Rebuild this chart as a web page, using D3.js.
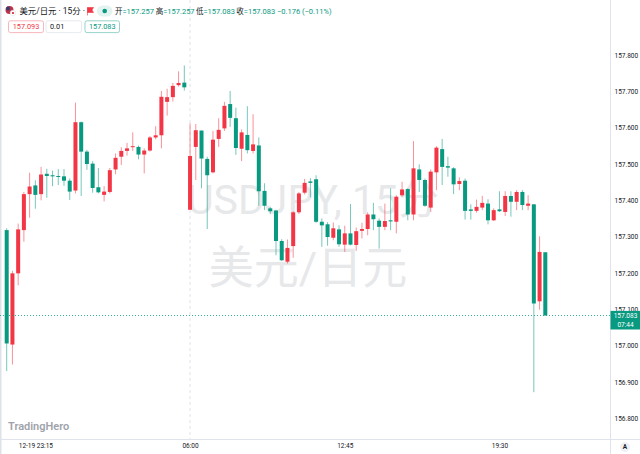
<!DOCTYPE html>
<html>
<head>
<meta charset="utf-8">
<script src="https://cdn.jsdelivr.net/npm/d3@7"></script>
<style>
  body { margin: 0; background: #fff; }
  svg { display: block; font-family: Roboto, "Noto Sans CJK SC", sans-serif; }
</style>
</head>
<body>
<svg id="chart" width="640" height="454"></svg>
<script>
// USD/JPY 15分 K线, 12-19 22:00 起
const startTime = new Date(2024, 11, 19, 22, 0);

const opens = [157.318,157.003,157.199,157.318,157.417,157.441,157.417,157.473,157.469,157.467,
  157.466,157.454,157.427,157.615,157.534,157.501,157.436,157.415,157.423,157.485,
  157.520,157.536,157.547,157.547,157.526,157.537,157.573,157.579,157.671,157.684,
  157.717,157.724,157.374,157.547,157.592,157.514,157.477,157.569,157.598,157.665,
  157.626,157.542,157.580,157.536,157.551,157.426,157.378,157.372,157.288,157.231,
  157.274,157.367,157.421,157.452,157.458,157.341,157.334,157.297,157.320,157.278,
  157.309,157.277,157.316,157.321,157.361,157.344,157.327,157.345,157.341,157.414,
  157.431,157.361,157.485,157.456,157.380,157.477,157.541,157.494,157.488,157.445,
  157.454,157.375,157.371,157.380,157.391,157.345,157.375,157.368,157.412,157.396,
  157.423,157.385,157.389,157.122,157.257];
const highs = [157.323,157.206,157.336,157.423,157.476,157.455,157.492,157.487,157.482,157.486,
  157.486,157.460,157.669,157.617,157.539,157.508,157.489,157.439,157.489,157.529,
  157.546,157.558,157.587,157.551,157.543,157.577,157.604,157.701,157.707,157.723,
  157.755,157.771,157.612,157.610,157.592,157.520,157.591,157.626,157.671,157.701,
  157.655,157.595,157.659,157.637,157.573,157.447,157.382,157.374,157.293,157.292,
  157.370,157.423,157.459,157.461,157.469,157.350,157.340,157.339,157.331,157.330,
  157.390,157.325,157.338,157.367,157.393,157.350,157.391,157.433,157.414,157.451,
  157.433,157.563,157.499,157.460,157.485,157.549,157.569,157.520,157.491,157.463,
  157.460,157.389,157.402,157.412,157.403,157.378,157.425,157.425,157.425,157.428,
  157.428,157.414,157.389,157.301,157.257];
const lows = [156.930,156.948,157.166,157.286,157.352,157.377,157.400,157.407,157.439,157.442,
  157.440,157.401,157.419,157.412,157.484,157.421,157.419,157.397,157.419,157.472,
  157.497,157.523,157.536,157.513,157.474,157.534,157.568,157.543,157.633,157.672,
  157.713,157.702,157.374,157.456,157.433,157.321,157.474,157.547,157.591,157.602,
  157.525,157.508,157.529,157.529,157.385,157.373,157.362,157.249,157.233,157.226,
  157.242,157.362,157.416,157.408,157.338,157.272,157.275,157.290,157.272,157.258,
  157.276,157.261,157.295,157.304,157.318,157.267,157.318,157.318,157.309,157.410,
  157.345,157.345,157.423,157.382,157.368,157.428,157.442,157.465,157.417,157.428,
  157.347,157.347,157.366,157.373,157.334,157.343,157.368,157.357,157.355,157.373,
  157.373,157.373,156.872,157.099,157.083];
const closes = [157.006,157.199,157.320,157.417,157.438,157.415,157.471,157.467,157.466,157.465,
  157.454,157.424,157.615,157.534,157.500,157.434,157.422,157.424,157.483,157.517,
  157.536,157.543,157.549,157.526,157.537,157.573,157.579,157.685,157.684,157.715,
  157.723,157.711,157.522,157.593,157.515,157.469,157.567,157.594,157.660,157.627,
  157.544,157.587,157.538,157.554,157.425,157.385,157.370,157.288,157.235,157.269,
  157.367,157.419,157.448,157.448,157.341,157.331,157.299,157.323,157.279,157.309,
  157.278,157.315,157.321,157.361,157.348,157.327,157.343,157.342,157.410,157.430,
  157.361,157.488,157.456,157.385,157.479,157.545,157.492,157.490,157.444,157.453,
  157.371,157.371,157.382,157.393,157.345,157.373,157.370,157.412,157.396,157.423,
  157.387,157.391,157.116,157.258,157.083];

const priceTicks = [156.8, 156.9, 157.0, 157.1, 157.2, 157.3, 157.4, 157.5, 157.6, 157.7, 157.8];
const timeTickIndex = [5, 32, 59, 86];
const timeTickLabels = ["12-19 23:15", "06:00", "12:45", "19:30"];
const lastPrice = 157.083;
const bidPrice = 157.093;
const spreadText = "0.01";
const countdown = "07:44";

const UP = "#f23645", DOWN = "#089981", TEXT = "#131722", LINE = "#e0e3eb";

const svg = d3.select("#chart");
const W = 640, H = 454, axisX = 610.5, axisY = 439.5;

const times = opens.map((_, i) => d3.timeMinute.offset(startTime, 15 * i));
const candles = opens.map((o, i) => ({ t: times[i], o: o, h: highs[i], l: lows[i], c: closes[i] }));

const x = d3.scaleTime().domain([times[0], times[times.length - 1]]).range([6.7, 545.3]);
const y = d3.scaleLinear().domain([156.8, 157.8]).range([418.3, 55]);

// 背景 + 边框
svg.append("rect").attr("width", W).attr("height", H).attr("fill", "#fff");
svg.append("rect").attr("x", 0).attr("y", 0).attr("width", 1.5).attr("height", H).attr("fill", "#dde1ea");

// 水印
svg.append("text").attr("x", 313).attr("y", 214).attr("text-anchor", "middle")
  .attr("font-size", 41).attr("fill", "#e7e8ea").text("USDJPY, 15分");
svg.append("text").attr("x", 308).attr("y", 284).attr("text-anchor", "middle")
  .attr("font-size", 45).attr("fill", "#e7e8ea").text("美元/日元");

// 06:00 分隔虚线
svg.append("line")
  .attr("x1", x(times[32])).attr("x2", x(times[32]))
  .attr("y1", 0).attr("y2", axisY)
  .attr("stroke", LINE).attr("stroke-dasharray", "3,3");

// K线
const g = svg.append("g");
g.selectAll(".wick").data(candles).enter().append("line")
  .attr("class", "wick")
  .attr("x1", d => x(d.t)).attr("x2", d => x(d.t))
  .attr("y1", d => y(d.h)).attr("y2", d => y(d.l))
  .attr("stroke", d => d.c >= d.o ? UP : DOWN)
  .attr("stroke-opacity", 0.55)
  .attr("stroke-width", 1);
g.selectAll(".body").data(candles).enter().append("rect")
  .attr("class", "body")
  .attr("x", d => x(d.t) - 2).attr("width", 4)
  .attr("y", d => y(Math.max(d.o, d.c)))
  .attr("height", d => Math.max(1, Math.abs(y(d.o) - y(d.c))))
  .attr("fill", d => d.c >= d.o ? UP : DOWN);

// 最新价虚线
const py = y(lastPrice);
const pyLine = Math.round(py) + 0.5;
svg.append("line")
  .attr("x1", 0).attr("x2", axisX)
  .attr("y1", pyLine).attr("y2", pyLine)
  .attr("stroke", DOWN).attr("stroke-opacity", 0.8).attr("stroke-dasharray", "1,2");

// 右侧价格轴
svg.append("line").attr("x1", axisX).attr("x2", axisX).attr("y1", 0).attr("y2", H).attr("stroke", LINE);
const yAxis = svg.append("g").attr("transform", `translate(${axisX},0)`)
  .call(d3.axisRight(y).tickValues(priceTicks).tickFormat(d3.format(".3f")).tickSize(0).tickPadding(4));
yAxis.select(".domain").remove();
yAxis.selectAll("text").attr("font-size", 6.5).attr("fill", TEXT)
  .attr("font-family", "Roboto, sans-serif");

// 价格标签
svg.append("rect").attr("x", axisX).attr("y", py - 4.6).attr("width", W - axisX).attr("height", 18.6).attr("fill", DOWN);
svg.append("text").attr("x", 625.5).attr("y", py + 2.4).attr("text-anchor", "middle")
  .attr("font-size", 6.5).attr("fill", "#fff").text(d3.format(".3f")(lastPrice));
svg.append("text").attr("x", 625.5).attr("y", py + 11.4).attr("text-anchor", "middle")
  .attr("font-size", 6.5).attr("fill", "#fff").text(countdown);

// 底部时间轴
svg.append("line").attr("x1", 0).attr("x2", W).attr("y1", axisY).attr("y2", axisY).attr("stroke", LINE);
const xAxis = svg.append("g").attr("transform", `translate(0,${axisY})`)
  .call(d3.axisBottom(x).tickValues(timeTickIndex.map(i => times[i]))
    .tickFormat((d, i) => timeTickLabels[i]).tickSize(0).tickPadding(4));
xAxis.select(".domain").remove();
xAxis.selectAll("text").attr("font-size", 6.5).attr("fill", TEXT)
  .attr("font-family", "Roboto, sans-serif");

svg.append("circle").attr("cx", 625).attr("cy", 447).attr("r", 5).attr("fill", "#eef0f5");
svg.append("text").attr("x", 625).attr("y", 449.3).attr("text-anchor", "middle")
  .attr("font-size", 6.5).attr("font-weight", 600).attr("fill", TEXT).text("A");

// TradingHero 标记
svg.append("text").attr("x", 8).attr("y", 430).attr("font-size", 11).attr("font-weight", 600)
  .attr("fill", "#a0a3ab").text("TradingHero");

// 顶部图例
svg.append("circle").attr("cx", 9.5).attr("cy", 10).attr("r", 4).attr("fill", "#b8344a");
svg.append("circle").attr("cx", 8).attr("cy", 8.5).attr("r", 2).attr("fill", "#3c3b6e");
svg.append("circle").attr("cx", 13).attr("cy", 13).attr("r", 2.8).attr("fill", "#fff").attr("stroke", "#ddd").attr("stroke-width", 0.5);
svg.append("circle").attr("cx", 13).attr("cy", 13).attr("r", 1.1).attr("fill", "#d01c2f");

svg.append("text").attr("x", 19.5).attr("y", 14).attr("font-size", 8.4).attr("fill", TEXT)
  .text("美元/日元 · 15分 ·");
svg.append("path").attr("d", "M87.5,7.5 h6 l-1.5,2.5 l1.5,2.5 h-6 Z M87.5,7.5 v8").attr("fill", UP).attr("stroke", UP).attr("stroke-width", 0.6);
svg.append("rect").attr("x", 97).attr("y", 5.5).attr("width", 15.5).attr("height", 11).attr("rx", 5.5).attr("fill", "#e3f3ef");
svg.append("circle").attr("cx", 104.7).attr("cy", 11).attr("r", 2.3).attr("fill", DOWN);

const legendLabels = ["开", "高", "低", "收"];
const legendValues = [opens[94], highs[94], lows[94], closes[94]];
const legendX = [115, 155.7, 196, 236.3];
legendLabels.forEach((lab, i) => {
  const t = svg.append("text").attr("x", legendX[i]).attr("y", 13.8).attr("font-size", 7.5);
  t.append("tspan").attr("fill", TEXT).text(lab);
  t.append("tspan").attr("fill", DOWN).text("=" + d3.format(".3f")(legendValues[i]));
});
svg.append("text").attr("x", 277).attr("y", 13.8).attr("font-size", 7.5).attr("fill", DOWN)
  .text(d3.format(".3f")(-0.176) + " (" + d3.format(".2f")(-0.11) + "%)");

// 买卖价框
const boxes = [
  { x: 8.5, w: 35, text: d3.format(".3f")(bidPrice), stroke: "#f5a3aa", fill: UP, anchor: "middle" },
  { x: 46, w: 35.5, text: spreadText, stroke: LINE, fill: TEXT, anchor: "start" },
  { x: 85, w: 34.5, text: d3.format(".3f")(lastPrice), stroke: "#7cc8b9", fill: DOWN, anchor: "middle" }
];
boxes.forEach(b => {
  svg.append("rect").attr("x", b.x).attr("y", 20.8).attr("width", b.w).attr("height", 11.8).attr("rx", 2)
    .attr("fill", "#fff").attr("stroke", b.stroke).attr("stroke-width", 0.8);
  svg.append("text").attr("x", b.anchor === "middle" ? b.x + b.w / 2 : b.x + 4).attr("y", 29.3)
    .attr("text-anchor", b.anchor).attr("font-size", 7.3).attr("fill", b.fill).text(b.text);
});
</script>
</body>
</html>
